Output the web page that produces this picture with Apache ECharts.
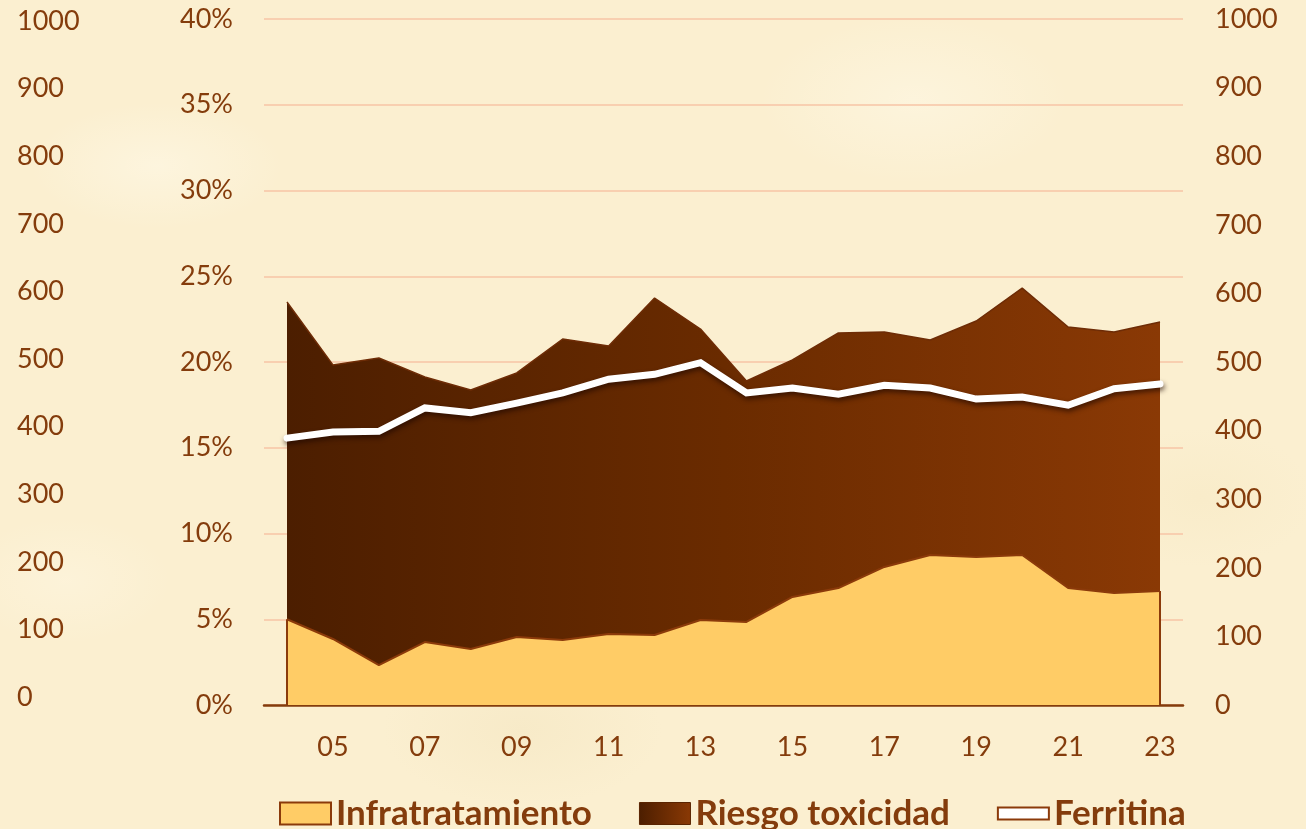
<!DOCTYPE html>
<html>
<head>
<meta charset="utf-8">
<script src="https://cdn.jsdelivr.net/npm/echarts@6/dist/echarts.min.js"></script>
<style>
  html, body { margin: 0; padding: 0; }
  body {
    width: 1306px; height: 829px; overflow: hidden;
    background-color: #fbefd0;
    background-image:
      radial-gradient(ellipse 180px 90px at 12% 20%, rgba(255,250,235,0.5), rgba(255,250,235,0) 70%),
      radial-gradient(ellipse 220px 120px at 70% 12%, rgba(255,250,235,0.45), rgba(255,250,235,0) 70%),
      radial-gradient(ellipse 200px 110px at 40% 88%, rgba(240,225,185,0.35), rgba(240,225,185,0) 70%),
      radial-gradient(ellipse 160px 100px at 92% 60%, rgba(245,230,190,0.35), rgba(245,230,190,0) 70%),
      radial-gradient(ellipse 150px 90px at 5% 70%, rgba(255,248,230,0.4), rgba(255,248,230,0) 70%);
  }
  #chart { width: 1306px; height: 829px; }
</style>
</head>
<body>
<div id="chart"></div>
<script>
// Years (two-digit labels)
const years = ['04','05','06','07','08','09','10','11','12','13','14','15','16','17','18','19','20','21','22','23'];
// Share of patients under-treated (%)
const infratratamiento = [5.0, 3.85, 2.33, 3.67, 3.27, 3.96, 3.79, 4.14, 4.08, 4.96, 4.84, 6.3, 6.82, 8.05, 8.75, 8.63, 8.75, 6.82, 6.53, 6.65];
// Share of patients at toxicity risk (%), stacked on top of the previous series
const riesgoToxicidad = [18.5, 15.98, 17.9, 15.46, 15.1, 15.4, 17.55, 16.79, 19.65, 16.96, 14.05, 13.82, 14.87, 13.7, 12.53, 13.76, 15.56, 15.22, 15.22, 15.68];
// Mean ferritin (ng/mL)
const ferritina = [389, 398, 399, 433, 426, 440, 455, 475, 482, 499, 455, 462, 453, 466, 462, 446, 449, 437, 461, 468];
// Axis ranges
const pctTicks = { min: 0, max: 40, interval: 5 };
const ferrTicks = { min: 0, max: 1000, interval: 100 };

const textColor = '#843c0c';
const fontFam = 'Lato, "Open Sans", sans-serif';
const labelSize = 27;
const brownGrad = new echarts.graphic.LinearGradient(0, 0, 1, 0, [
  { offset: 0, color: '#4c1e00' },
  { offset: 0.5, color: '#6a2b00' },
  { offset: 1, color: '#8a3905' }
]);
const brownGradIcon = new echarts.graphic.LinearGradient(0, 0, 1, 0, [
  { offset: 0, color: '#4c1e00' },
  { offset: 1, color: '#8a3905' }
]);
const plainNumber = (v) => String(v);

const chart = echarts.init(document.getElementById('chart'), null, { renderer: 'canvas' });

chart.setOption({
  animation: false,
  backgroundColor: 'transparent',
  textStyle: { fontFamily: fontFam },
  grid: [
    { left: 264, right: 123, top: 19, bottom: 124 },
    { left: 264, right: 123, top: 21, bottom: 132 }
  ],
  legend: {
    left: 274,
    top: 791,
    itemWidth: 51,
    itemHeight: 22,
    itemGap: 47,
    selectedMode: false,
    textStyle: { color: textColor, fontSize: 35, fontWeight: 'bold', fontFamily: fontFam },
    data: [
      { name: 'Infratratamiento', icon: 'rect', itemStyle: { color: '#ffcc66', borderColor: '#8b3a0a', borderWidth: 2 } },
      { name: 'Riesgo toxicidad', icon: 'rect', itemStyle: { color: brownGradIcon, borderColor: '#5a2400', borderWidth: 1 } },
      { name: 'Ferritina', icon: 'path://M0,0 L51,0 L51,12 L0,12 Z', itemStyle: { color: '#ffffff', borderColor: '#8b3a0a', borderWidth: 2 } }
    ]
  },
  xAxis: [
    {
      type: 'category',
      gridIndex: 0,
      data: years,
      boundaryGap: true,
      axisLine: { lineStyle: { color: '#843c0c', width: 2.5 } },
      axisTick: { show: false },
      axisLabel: {
        color: textColor, fontSize: labelSize, margin: 29,
        interval: (i) => i % 2 === 1
      },
      splitLine: { show: false }
    },
    {
      type: 'category', gridIndex: 1, data: years, show: false
    }
  ],
  yAxis: [
    {
      type: 'value', gridIndex: 0, position: 'left',
      min: pctTicks.min, max: pctTicks.max, interval: pctTicks.interval,
      axisLine: { show: false }, axisTick: { show: false },
      axisLabel: { color: textColor, fontSize: labelSize, margin: 31, formatter: '{value}%' },
      splitLine: { lineStyle: { color: '#f7c5a6', width: 1.5 } }
    },
    {
      type: 'value', gridIndex: 0, position: 'right',
      min: ferrTicks.min, max: ferrTicks.max, interval: ferrTicks.interval,
      axisLine: { show: false }, axisTick: { show: false },
      axisLabel: { color: textColor, fontSize: labelSize, margin: 32, align: 'left', formatter: plainNumber },
      splitLine: { show: false }
    },
    {
      type: 'value', gridIndex: 1, position: 'left',
      min: ferrTicks.min, max: ferrTicks.max, interval: ferrTicks.interval,
      axisLine: { show: false }, axisTick: { show: false },
      axisLabel: { color: textColor, fontSize: labelSize, margin: 247, align: 'left', formatter: plainNumber },
      splitLine: { show: false }
    }
  ],
  series: [
    {
      name: 'Infratratamiento',
      type: 'line',
      stack: 'pct',
      xAxisIndex: 0, yAxisIndex: 0,
      data: infratratamiento,
      z: 4,
      symbol: 'none',
      lineStyle: { color: '#8b3a0a', width: 2 },
      areaStyle: { color: '#ffcc66', opacity: 1 },
      itemStyle: { color: '#ffcc66' },
      markLine: {
        silent: true,
        symbol: 'none',
        label: { show: false },
        lineStyle: { color: '#8b3a0a', width: 2, type: 'solid' },
        data: [
          [{ coord: [years[0], 0] }, { coord: [years[0], infratratamiento[0]] }],
          [{ coord: [years[years.length - 1], 0] }, { coord: [years[years.length - 1], infratratamiento[infratratamiento.length - 1]] }]
        ]
      }
    },
    {
      name: 'Riesgo toxicidad',
      type: 'line',
      stack: 'pct',
      xAxisIndex: 0, yAxisIndex: 0,
      data: riesgoToxicidad,
      z: 3,
      symbol: 'none',
      lineStyle: { color: '#6e2c06', width: 1.5 },
      areaStyle: { color: brownGrad, opacity: 1 },
      itemStyle: { color: '#6a2b00' }
    },
    {
      name: 'Ferritina',
      type: 'line',
      xAxisIndex: 0, yAxisIndex: 1,
      data: ferritina,
      z: 5,
      symbol: 'none',
      lineStyle: {
        color: '#ffffff', width: 7, cap: 'round', join: 'miter',
        shadowColor: 'rgba(30,8,0,0.65)', shadowBlur: 5, shadowOffsetX: 1, shadowOffsetY: 3
      },
      itemStyle: { color: '#ffffff' }
    }
  ]
});
</script>
</body>
</html>
